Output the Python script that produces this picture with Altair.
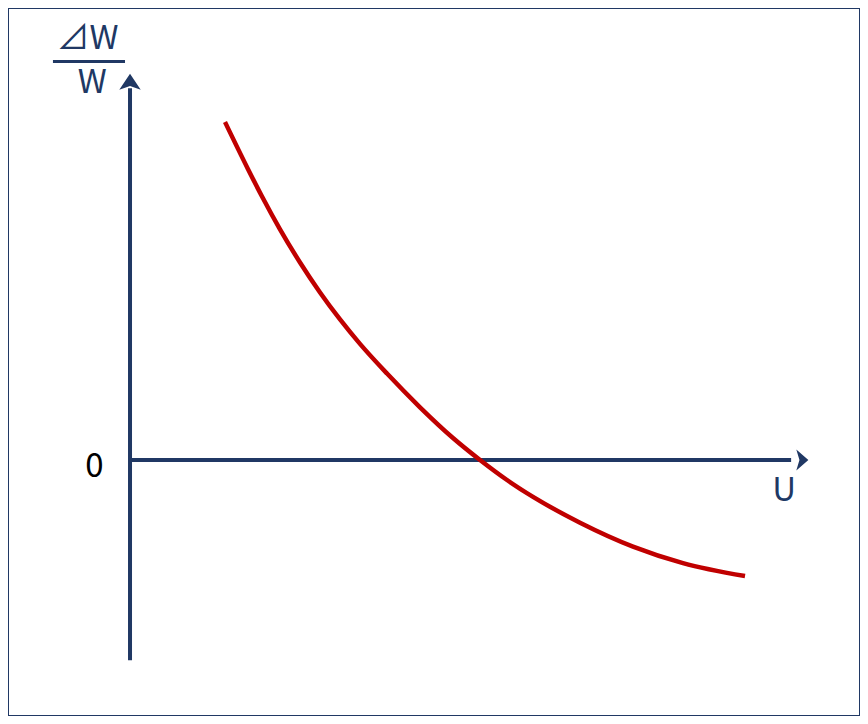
import altair as alt
import pandas as pd

# Curve: relative change of W vs U (arbitrary units, axes end near 100)
curve_u = [14.05, 17.46, 19.53, 22.19, 25.15, 28.11, 31.07, 34.02, 38.02, 42.90, 47.78,
           51.78, 55.77, 59.62, 66.57, 74.41, 81.80, 90.98]
curve_w = [88.48, 76.13, 68.98, 60.39, 51.70, 43.85, 36.78, 30.39, 22.62, 13.80, 5.76,
           0.0, -5.24, -9.66, -16.41, -22.67, -26.99, -30.39]

# axis extents in data units
x_axis_end = 98.8
y_axis_top = 98.3
y_axis_bottom = -52.4

NAVY = "#203864"
RED = "#C00000"
FONT = "Noto Sans CJK JP"

X_DOMAIN = [-18.05, 107.99]
Y_DOMAIN = [-67.02, 118.32]

xs = alt.Scale(domain=X_DOMAIN, nice=False, zero=False)
ys = alt.Scale(domain=Y_DOMAIN, nice=False, zero=False)

curve_df = pd.DataFrame({"u": curve_u, "w": curve_w})

x_axis_df = pd.DataFrame({"x": [0.0], "x2": [x_axis_end - 1.0], "y": [0.0]})
y_axis_df = pd.DataFrame({"x": [0.0], "y": [y_axis_bottom], "y2": [y_axis_top - 1.0]})

x_axis = alt.Chart(x_axis_df).mark_rule(color=NAVY, strokeWidth=4).encode(
    x=alt.X("x:Q", scale=xs, axis=None), x2="x2:Q", y=alt.Y("y:Q", scale=ys, axis=None)
)
y_axis = alt.Chart(y_axis_df).mark_rule(color=NAVY, strokeWidth=4).encode(
    x=alt.X("x:Q", scale=xs, axis=None), y=alt.Y("y:Q", scale=ys, axis=None), y2="y2:Q"
)

right_arrow = alt.Chart(pd.DataFrame({"x": [x_axis_end], "y": [0.0]})).mark_point(
    shape="M1,0 L-0.15,-1 L0.15,0 L-0.15,1 Z", size=440, filled=True, color=NAVY,
    opacity=1, strokeWidth=1
).encode(x=alt.X("x:Q", scale=xs, axis=None), y=alt.Y("y:Q", scale=ys, axis=None))

up_arrow = alt.Chart(pd.DataFrame({"x": [0.0], "y": [y_axis_top]})).mark_point(
    shape="M0,-1 L1,0.5 L0,0.15 L-1,0.5 Z", size=460, filled=True, color=NAVY,
    opacity=1, strokeWidth=1
).encode(x=alt.X("x:Q", scale=xs, axis=None), y=alt.Y("y:Q", scale=ys, axis=None))

curve = alt.Chart(curve_df).mark_line(color=RED, strokeWidth=4.5, interpolate="monotone").encode(
    x=alt.X("u:Q", scale=xs, axis=None), y=alt.Y("w:Q", scale=ys, axis=None)
)

# Labels
label_text = ["0", "U", "⊿W", "W"]
label_x = [-5.25, 96.75, -6.3, -5.6]
label_y = [-4.45, -10.73, 107.6, 96.1]
label_color = ["#000000", NAVY, NAVY, NAVY]
labels_df = pd.DataFrame({"t": label_text, "x": label_x, "y": label_y, "c": label_color})

labels = alt.Chart(labels_df).mark_text(
    font=FONT, fontSize=33, align="center", baseline="alphabetic"
).encode(
    x=alt.X("x:Q", scale=xs, axis=None),
    y=alt.Y("y:Q", scale=ys, axis=None),
    text="t:N",
    color=alt.Color("c:N", scale=None),
)

frac_df = pd.DataFrame({"x": [-11.4], "x2": [-0.74], "y": [104.3]})
frac = alt.Chart(frac_df).mark_rule(color=NAVY, strokeWidth=3).encode(
    x=alt.X("x:Q", scale=xs, axis=None), x2="x2:Q", y=alt.Y("y:Q", scale=ys, axis=None)
)

chart = (
    alt.layer(x_axis, y_axis, right_arrow, up_arrow, curve, labels, frac)
    .properties(width=852, height=708, autosize=alt.AutoSizeParams(type="none"), padding=0)
    .configure_view(stroke=NAVY, strokeWidth=2)
)

chart.save("out.html", embed_options={"renderer": "svg", "actions": False})
